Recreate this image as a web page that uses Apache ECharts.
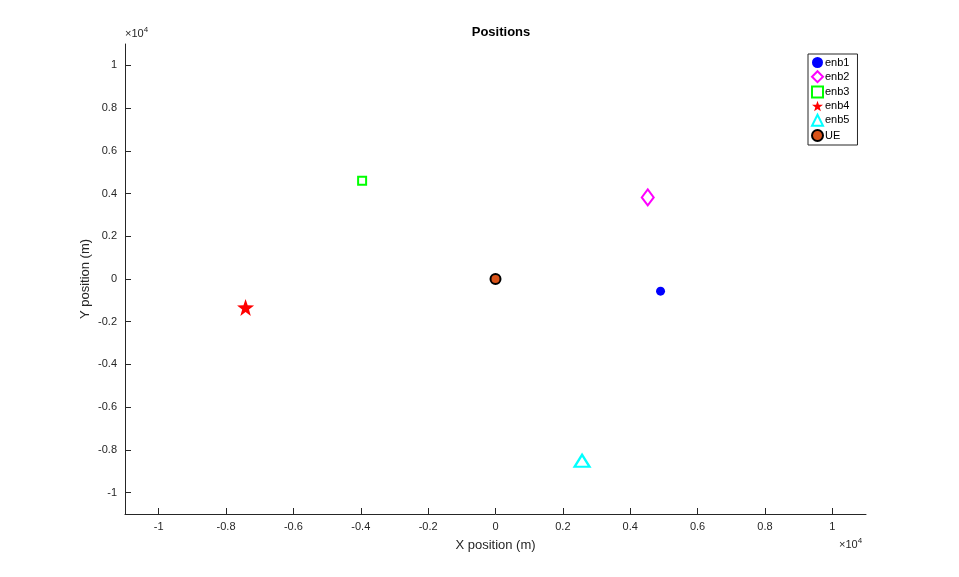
<!DOCTYPE html>
<html><head><meta charset="utf-8">
<script src="https://cdn.jsdelivr.net/npm/echarts@6/dist/echarts.min.js"></script>
<style>html,body{margin:0;padding:0;background:#fff}#c{width:959px;height:577px}</style>
</head><body><div id="c"></div>
<script>
const names = ['enb1', 'enb2', 'enb3', 'enb4', 'enb5', 'UE'];
const xVals = [4900, 4520, -3960, -7420, 2570, 0];
const yVals = [-570, 3820, 4600, -1330, -8510, 0];
const tickVals = [-10000, -8000, -6000, -4000, -2000, 0, 2000, 4000, 6000, 8000, 10000];

const FONT = '"Liberation Sans", Arial, sans-serif';
const AX = '#262626';
const starPath = (function () {
  let p = [];
  for (let i = 0; i < 10; i++) {
    const r = i % 2 === 0 ? 50 : 20;
    const a = -Math.PI / 2 + i * Math.PI / 5;
    p.push((50 + r * Math.cos(a)).toFixed(2) + ',' + (50 + r * Math.sin(a)).toFixed(2));
  }
  return 'path://M' + p.join('L') + 'Z';
})();

const styles = [
  { symbol: 'circle', size: 9, itemStyle: { color: '#0000ff' } },
  { symbol: 'diamond', size: [12, 16], itemStyle: { color: 'rgba(255,255,255,0)', borderColor: '#ff00ff', borderWidth: 2 } },
  { symbol: 'rect', size: 8, itemStyle: { color: 'rgba(255,255,255,0)', borderColor: '#00ff00', borderWidth: 2 } },
  { symbol: starPath, size: 17, itemStyle: { color: '#ff0000' } },
  { symbol: 'triangle', size: [15, 12], itemStyle: { color: 'rgba(255,255,255,0)', borderColor: '#00ffff', borderWidth: 2.2 } },
  { symbol: 'circle', size: 10, itemStyle: { color: '#d95319', borderColor: '#000', borderWidth: 2 } }
];

const series = names.map((n, i) => ({
  name: n, type: 'scatter',
  data: [[xVals[i], yVals[i]]],
  symbol: styles[i].symbol,
  symbolSize: styles[i].size,
  itemStyle: Object.assign({ opacity: 1 }, styles[i].itemStyle),
  emphasis: { disabled: true },
  z: 3
}));

function fmt(v) { return String(Math.round(v / 1000) / 10); }

function axisCommon(name, isX) {
  return {
    type: 'value', min: -11000, max: 11000, interval: 1000,
    name: name, nameLocation: 'middle', nameGap: isX ? 25 : 33,
    nameMoveOverlap: false,
    nameTextStyle: { fontFamily: FONT, fontSize: 13, color: AX },
    axisLine: { onZero: false, lineStyle: { color: AX, width: 1 } },
    axisTick: { show: true, inside: true, length: 6, customValues: tickVals, lineStyle: { color: AX } },
    axisLabel: { customValues: tickVals, formatter: fmt, fontFamily: FONT, fontSize: 11, color: AX, margin: isX ? 7 : 8 },
    splitLine: { show: false }
  };
}

const expStyle = { text: '×10{s|4}', rich: { s: { fontSize: 8, verticalAlign: 'top', padding: [0, 0, 7, 0], fontFamily: FONT, fill: AX } }, fontFamily: FONT, fontSize: 11, fill: AX };

const chart = echarts.init(document.getElementById('c'));
chart.setOption({
  animation: false,
  backgroundColor: '#fff',
  title: { text: 'Positions', left: 496, textAlign: 'center', top: 21,
    textStyle: { fontFamily: FONT, fontSize: 13, fontWeight: 'bold', color: '#000' } },
  grid: { left: 125, top: 44, right: 93, bottom: 63, containLabel: false },
  xAxis: axisCommon('X position (m)', true),
  yAxis: axisCommon('Y position (m)', false),
  legend: {
    orient: 'vertical', left: 808, top: 54,
    itemWidth: 11, itemHeight: 11, itemGap: 2.2,
    padding: [3, 8, 3, 3],
    borderColor: '#262626', borderWidth: 1,
    backgroundColor: '#fff',
    textStyle: { fontFamily: FONT, fontSize: 11, lineHeight: 11, color: '#000', padding: [0, 0, 0, -3] },
    data: names
  },
  graphic: [
    { type: 'text', left: 125, top: 26, style: expStyle },
    { type: 'text', left: 839, top: 537, style: expStyle }
  ],
  series: series
});
</script></body></html>
